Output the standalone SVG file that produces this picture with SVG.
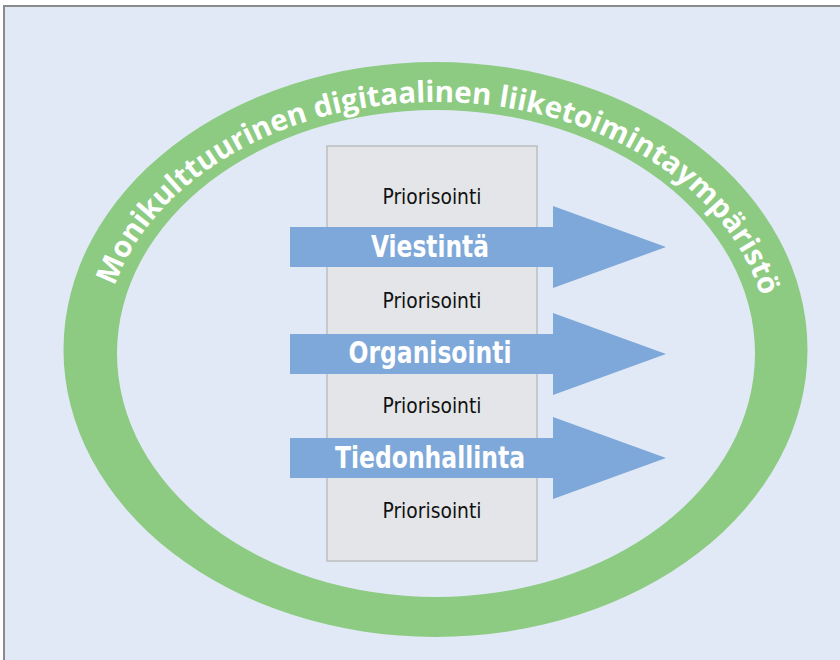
<svg xmlns="http://www.w3.org/2000/svg" width="840" height="660" viewBox="0 0 840 660">
<style>
.bg{fill:#e1e9f6;stroke:#8b8b8b;stroke-width:2}
.ring{fill:#8dcb83;fill-rule:evenodd}
.col{fill:#e4e5e8;stroke:#bcbdbf;stroke-width:1.5}
.arrow{fill:#7ea8d9}
.prio{font-family:"Liberation Sans Narrow","DejaVu Sans Condensed","Liberation Sans",sans-serif;font-size:21px;fill:#111;text-anchor:middle}
.lbl{font-family:"Liberation Sans Narrow","DejaVu Sans Condensed","Liberation Sans",sans-serif;font-size:30px;font-weight:bold;fill:#fff;text-anchor:middle}
.ringtxt{font-family:"Open Sans","Noto Sans",sans-serif;font-size:29.5px;font-weight:bold;fill:#fff}
</style>
<defs>
<path id="ringPath" d="M 103 351 A 333 249 0 0 1 769 351"/>
</defs>
<rect x="0" y="0" width="840" height="660" fill="#ffffff"/>
<rect class="bg" x="4" y="6" width="850" height="670"/>
<g id="environment">
<path class="ring" d="M 63.5 349.5 A 372 287.5 0 1 0 807.5 349.5 A 372 287.5 0 1 0 63.5 349.5 Z M 117 353.5 A 319 243.5 0 1 0 755 353.5 A 319 243.5 0 1 0 117 353.5 Z"/>
<text class="ringtxt"><textPath href="#ringPath" startOffset="66">Monikulttuurinen digitaalinen liiketoimintaympäristö</textPath></text>
</g>
<g id="priorisointi">
<rect class="col" x="327" y="146" width="210" height="415"/>
<text class="prio" x="432" y="204" textLength="99" lengthAdjust="spacingAndGlyphs">Priorisointi</text>
<text class="prio" x="432" y="308" textLength="99" lengthAdjust="spacingAndGlyphs">Priorisointi</text>
<text class="prio" x="432" y="413" textLength="99" lengthAdjust="spacingAndGlyphs">Priorisointi</text>
<text class="prio" x="432" y="518" textLength="99" lengthAdjust="spacingAndGlyphs">Priorisointi</text>
</g>
<g id="viestinta">
<polygon class="arrow" points="290,227 553,227 553,206 666,247 553,288 553,267 290,267"/>
<text class="lbl" x="430" y="257" textLength="118" lengthAdjust="spacingAndGlyphs">Viestintä</text>
</g>
<g id="organisointi">
<polygon class="arrow" points="290,334 553,334 553,313 666,354 553,395 553,374 290,374"/>
<text class="lbl" x="430" y="363" textLength="163" lengthAdjust="spacingAndGlyphs">Organisointi</text>
</g>
<g id="tiedonhallinta">
<polygon class="arrow" points="290,438 553,438 553,417 666,458 553,499 553,478 290,478"/>
<text class="lbl" x="430" y="468" textLength="190" lengthAdjust="spacingAndGlyphs">Tiedonhallinta</text>
</g>
<g id="connectors"/>
</svg>
